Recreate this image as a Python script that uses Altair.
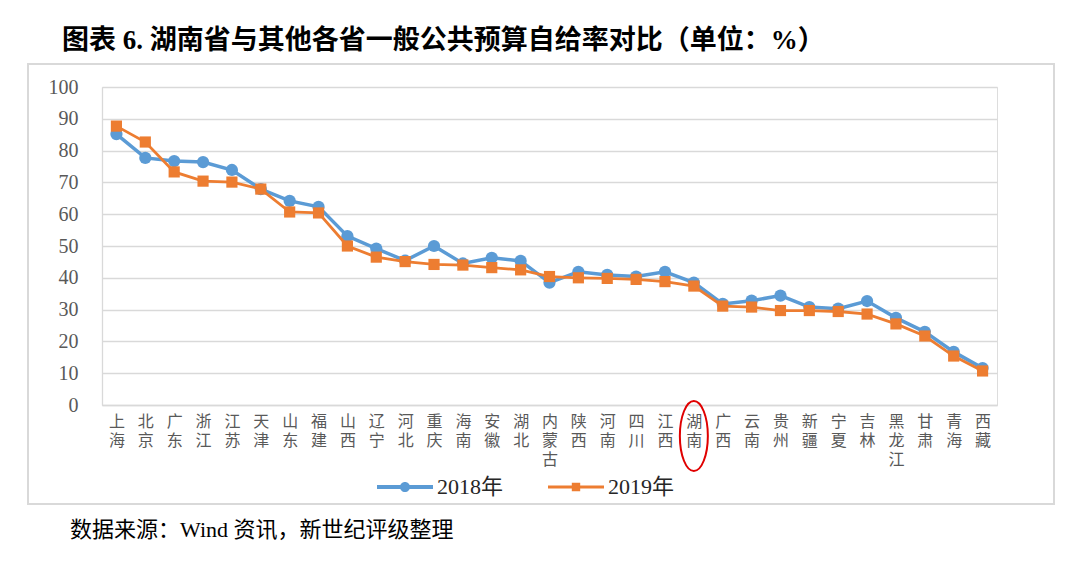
import altair as alt
import pandas as pd

provinces = ["上海", "北京", "广东", "浙江", "江苏", "天津", "山东", "福建", "山西", "辽宁",
             "河北", "重庆", "海南", "安徽", "湖北", "内蒙古", "陕西", "河南", "四川", "江西",
             "湖南", "广西", "云南", "贵州", "新疆", "宁夏", "吉林", "黑龙江", "甘肃", "青海", "西藏"]
v2018 = [85.2, 77.7, 76.7, 76.4, 73.9, 67.9, 64.2, 62.3, 53.1, 49.2,
         45.4, 50.0, 44.5, 46.3, 45.3, 38.5, 41.9, 40.9, 40.4, 41.9,
         38.5, 31.8, 32.8, 34.4, 30.8, 30.3, 32.7, 27.4, 23.0, 16.7, 11.6]
v2019 = [87.7, 82.7, 73.3, 70.4, 70.1, 67.9, 60.7, 60.4, 50.0, 46.5,
         45.1, 44.2, 44.0, 43.2, 42.5, 40.4, 40.0, 39.8, 39.5, 38.8,
         37.4, 31.1, 30.8, 29.7, 29.7, 29.4, 28.6, 25.5, 21.7, 15.4, 10.7]
years = ["2018年", "2019年"]
colors = ["#5B9BD5", "#ED7D31"]
highlight = ["湖南"]
title_text = "图表 6. 湖南省与其他各省一般公共预算自给率对比（单位：%）"
source_text = "数据来源：Wind 资讯，新世纪评级整理"

df = pd.DataFrame({
    "province": provinces * 2,
    "year": [years[0]] * len(provinces) + [years[1]] * len(provinces),
    "value": v2018 + v2019,
})

W, H = 895, 318
SERIF = "Liberation Serif, Noto Sans CJK SC"
CJK = "Noto Sans CJK SC"

x_enc = alt.X("province:O", sort=provinces, scale=alt.Scale(padding=0.5),
              axis=alt.Axis(title=None, labelAngle=0, ticks=False, domain=True,
                            domainColor="#D9D9D9", domainWidth=1.3,
                            labelExpr="split(datum.label, '')",
                            labelFont=CJK, labelFontSize=16, labelLineHeight=19,
                            labelColor="#595959", labelPadding=8, labelBaseline="top"))
y_enc = alt.Y("value:Q", scale=alt.Scale(domain=[0, 100], nice=False),
              axis=alt.Axis(title=None, values=list(range(0, 101, 10)), ticks=False,
                            domain=True, domainColor="#D9D9D9", domainWidth=1.3,
                            grid=True, gridColor="#D9D9D9", gridWidth=1.3,
                            labelFont=SERIF, labelFontSize=20, labelColor="#595959",
                            labelPadding=24))

base = alt.Chart(df)

frame = alt.Chart(pd.DataFrame({"k": [0]})).mark_rect(
    fill="white", fillOpacity=0, stroke="#D9D9D9", strokeWidth=2
).encode(x=alt.value(-74), x2=alt.value(952), y=alt.value(-23), y2=alt.value(417))

layers = [frame]
shapes_pts = ["circle", "square"]
widths = [3.5, 2.8]
sizes = [150, 125]
for yr, c, shp, w, s in zip(years, colors, shapes_pts, widths, sizes):
    sub = base.transform_filter(alt.datum.year == yr)
    layers.append(sub.mark_line(color=c, strokeWidth=w).encode(x=x_enc, y=y_enc))
    layers.append(sub.mark_point(shape=shp, filled=True, color=c, size=s, opacity=1,
                                 strokeWidth=0).encode(x=x_enc, y=y_enc))

# legend carrier (no drawn data)
circle_path = ("M-1,-0.07L1,-0.07L1,0.07L-1,0.07Z "
               "M0.18,0A0.18,0.18,0,1,1,-0.18,0A0.18,0.18,0,1,1,0.18,0Z")
square_path = ("M-1,-0.055L1,-0.055L1,0.055L-1,0.055Z "
               "M-0.15,-0.15L0.15,-0.15L0.15,0.15L-0.15,0.15Z")
leg = alt.Legend(title=None, orient="none", legendX=275, legendY=372, direction="horizontal",
                 symbolSize=3136, symbolStrokeWidth=0, labelFont=SERIF, labelFontSize=22,
                 labelColor="#262626", labelOffset=4, columnPadding=44, padding=0)
legend_layer = base.transform_filter("false").mark_point(
    filled=True, opacity=1, size=3136, strokeWidth=0
).encode(
    x=x_enc, y=y_enc,
    color=alt.Color("year:N", scale=alt.Scale(domain=years, range=colors), legend=leg),
    shape=alt.Shape("year:N", scale=alt.Scale(domain=years, range=[circle_path, square_path]),
                    legend=leg),
)
layers.append(legend_layer)

ellipse_path = "M0,-1A0.4,1,0,1,1,0,1A0.4,1,0,1,1,0,-1Z"
ring = alt.Chart(pd.DataFrame({"province": highlight})).mark_point(
    shape=ellipse_path, size=4900, filled=False, color="#E00000", strokeWidth=2, opacity=1
).encode(x=alt.X("province:O", sort=provinces, scale=alt.Scale(padding=0.5)),
         y=alt.value(349))
layers.append(ring)

source = alt.Chart(pd.DataFrame({"t": [source_text]})).mark_text(
    align="left", baseline="middle", font=SERIF, fontSize=22, color="black"
).encode(text="t:N", x=alt.value(-32), y=alt.value(443))
layers.append(source)

chart = alt.layer(*layers).properties(
    width=W, height=H,
    title=alt.TitleParams(text=title_text, anchor="start", frame="group", dx=-40, offset=8,
                          font=SERIF, fontSize=27, fontWeight="bold", color="black"),
    autosize=alt.AutoSizeParams(type="none"),
    padding={"left": 94, "top": 79, "right": 75, "bottom": 156},
).configure_view(stroke=None).configure(background="white")

chart.save("out.html", embed_options={"renderer": "svg", "actions": False})
